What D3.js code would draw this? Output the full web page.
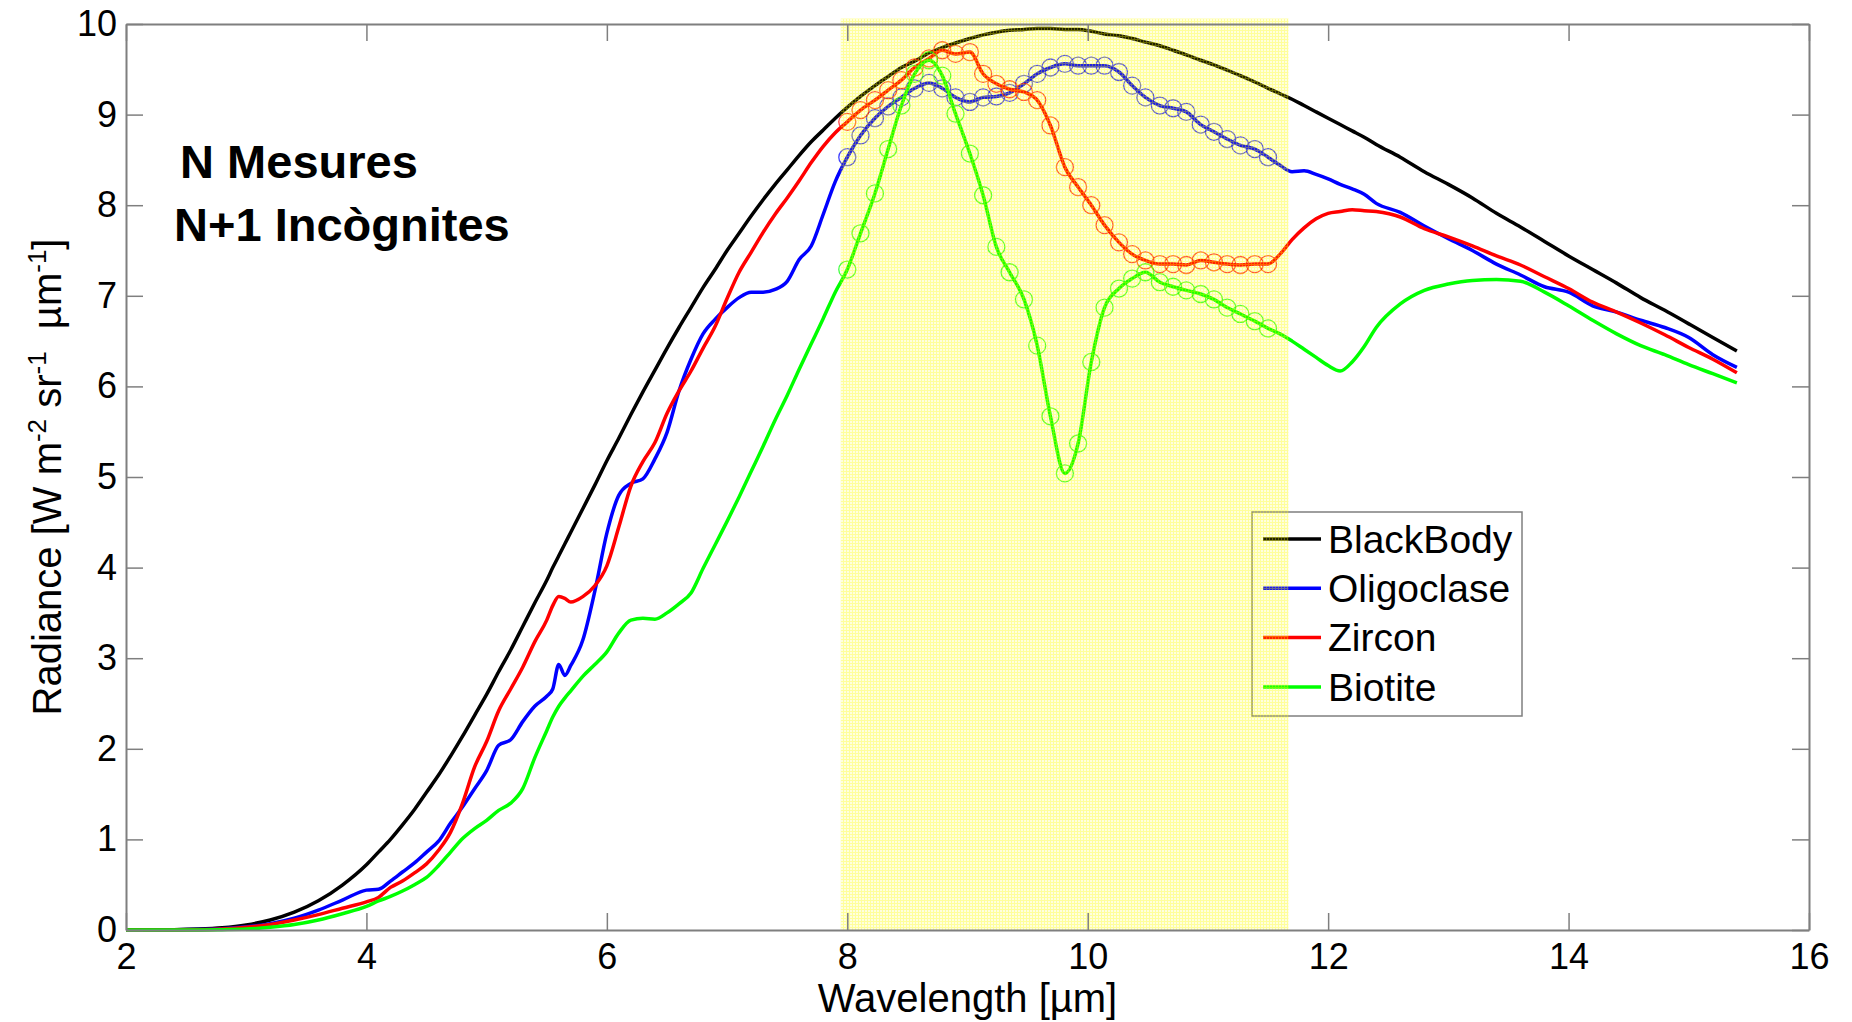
<!DOCTYPE html>
<html lang="en">
<head>
<meta charset="UTF-8">
<title>Radiance spectra</title>
<script src="https://d3js.org/d3.v7.min.js"></script>
<style>
    body { margin: 0; background: #fff; }
    svg { display: block; }
    text { font-family: "Liberation Sans", Arial, sans-serif; fill: #000; }
    .axis path, .axis line { stroke: #7f7f7f; }
    .axis path { stroke-width: 2; }
    .axis line { stroke-width: 1.5; }
</style>
</head>
<body>
<script>
// Data (wavelength in um, radiance in W m-2 sr-1 um-1)
const wavelengths = [
    2.0, 2.2, 2.4, 2.6, 2.8, 3.0, 3.2, 3.4, 3.6, 3.8,
    4.0, 4.1, 4.2, 4.3, 4.4, 4.5, 4.6, 4.7, 4.8, 4.9, 5.0, 5.1, 5.2, 5.3, 5.4, 5.5,
    5.55, 5.6, 5.65, 5.7, 5.8, 5.9, 6.0, 6.1, 6.2, 6.3, 6.4, 6.5, 6.6, 6.7, 6.8, 6.9,
    7.0, 7.1, 7.2, 7.3, 7.4, 7.5, 7.6, 7.7, 7.8, 7.9,
    8.00, 8.11, 8.23, 8.34, 8.45, 8.56, 8.68, 8.79, 8.90, 9.02, 9.13, 9.24, 9.35, 9.47, 9.58, 9.69,
    9.81, 9.92, 10.03, 10.14, 10.26, 10.37, 10.48, 10.60, 10.71, 10.82, 10.94, 11.05, 11.16, 11.27, 11.39, 11.50,
    11.6, 11.7, 11.8, 11.9, 12.0, 12.1, 12.2, 12.3, 12.4,
    12.6, 12.8, 13.0, 13.2, 13.4, 13.6, 13.8, 14.0, 14.2, 14.4, 14.6, 14.8, 15.0, 15.2, 15.4
];

const blackBody = [
    0.000, 0.001, 0.003, 0.010, 0.025, 0.056, 0.110, 0.196, 0.322, 0.496,
    0.72, 0.86, 1.00, 1.16, 1.33, 1.52, 1.71, 1.92, 2.14, 2.37, 2.60, 2.85, 3.09, 3.35, 3.61, 3.86,
    4.00, 4.13, 4.26, 4.39, 4.65, 4.91, 5.18, 5.43, 5.69, 5.94, 6.18, 6.42, 6.65, 6.87, 7.09, 7.29,
    7.50, 7.69, 7.88, 8.06, 8.23, 8.39, 8.55, 8.70, 8.83, 8.96,
    9.08, 9.20, 9.32, 9.42, 9.52, 9.59, 9.68, 9.74, 9.79, 9.84, 9.88, 9.91, 9.93, 9.94, 9.95, 9.95,
    9.94, 9.94, 9.92, 9.89, 9.87, 9.84, 9.80, 9.76, 9.71, 9.66, 9.60, 9.55, 9.49, 9.43, 9.36, 9.29,
    9.23, 9.17, 9.10, 9.03, 8.96, 8.89, 8.82, 8.75, 8.67,
    8.53, 8.37, 8.23, 8.08, 7.91, 7.76, 7.60, 7.44, 7.29, 7.14, 6.98, 6.84, 6.69, 6.54, 6.39
];

const oligoclase = [
    0.000, 0.000, 0.002, 0.006, 0.015, 0.035, 0.07, 0.13, 0.22, 0.33,
    0.44, 0.45, 0.54, 0.64, 0.74, 0.86, 0.98, 1.18, 1.36, 1.56, 1.76, 2.04, 2.10, 2.30, 2.47, 2.58,
    2.66, 2.93, 2.81, 2.92, 3.20, 3.74, 4.38, 4.80, 4.93, 4.98, 5.20, 5.49, 5.95, 6.30, 6.58, 6.74,
    6.87, 6.98, 7.04, 7.04, 7.07, 7.16, 7.40, 7.55, 7.90, 8.26,
    8.53, 8.77, 8.96, 9.09, 9.19, 9.29, 9.35, 9.29, 9.19, 9.14, 9.19, 9.20, 9.24, 9.34, 9.45, 9.52,
    9.56, 9.54, 9.54, 9.54, 9.47, 9.32, 9.19, 9.10, 9.07, 9.03, 8.89, 8.81, 8.73, 8.66, 8.62, 8.53,
    8.44, 8.37, 8.38, 8.34, 8.29, 8.23, 8.18, 8.12, 8.02,
    7.92, 7.77, 7.63, 7.50, 7.35, 7.23, 7.10, 7.04, 6.89, 6.82, 6.73, 6.65, 6.54, 6.35, 6.21
];

const zircon = [
    0.000, 0.000, 0.001, 0.004, 0.012, 0.030, 0.06, 0.11, 0.17, 0.24,
    0.31, 0.36, 0.47, 0.54, 0.63, 0.73, 0.88, 1.08, 1.40, 1.80, 2.08, 2.42, 2.66, 2.90, 3.18, 3.42,
    3.58, 3.68, 3.66, 3.62, 3.68, 3.80, 4.02, 4.45, 4.90, 5.17, 5.38, 5.70, 5.95, 6.17, 6.42, 6.66,
    6.97, 7.26, 7.48, 7.70, 7.90, 8.08, 8.27, 8.47, 8.65, 8.80,
    8.92, 9.05, 9.16, 9.27, 9.38, 9.52, 9.62, 9.71, 9.67, 9.69, 9.45, 9.34, 9.28, 9.25, 9.16, 8.88,
    8.42, 8.20, 8.00, 7.78, 7.59, 7.46, 7.39, 7.35, 7.35, 7.34, 7.39, 7.37, 7.35, 7.34, 7.35, 7.35,
    7.46, 7.62, 7.75, 7.85, 7.91, 7.93, 7.95, 7.94, 7.93,
    7.87, 7.74, 7.65, 7.55, 7.44, 7.34, 7.21, 7.08, 6.93, 6.82, 6.70, 6.57, 6.43, 6.30, 6.15
];

const biotite = [
    0.000, 0.000, 0.000, 0.001, 0.004, 0.010, 0.03, 0.06, 0.11, 0.18,
    0.26, 0.32, 0.37, 0.43, 0.50, 0.58, 0.71, 0.86, 1.01, 1.12, 1.21, 1.32, 1.40, 1.56, 1.90, 2.20,
    2.35, 2.47, 2.56, 2.64, 2.80, 2.93, 3.07, 3.28, 3.42, 3.44, 3.43, 3.50, 3.60, 3.72, 3.99, 4.25,
    4.51, 4.78, 5.06, 5.34, 5.63, 5.90, 6.19, 6.47, 6.75, 7.04,
    7.29, 7.69, 8.13, 8.62, 9.10, 9.45, 9.60, 9.43, 9.01, 8.57, 8.11, 7.54, 7.26, 6.96, 6.45, 5.67,
    5.04, 5.37, 6.27, 6.87, 7.08, 7.19, 7.26, 7.15, 7.10, 7.06, 7.02, 6.96, 6.87, 6.80, 6.72, 6.64,
    6.58, 6.50, 6.41, 6.32, 6.23, 6.17, 6.27, 6.44, 6.65,
    6.91, 7.06, 7.13, 7.17, 7.18, 7.16, 7.04, 6.89, 6.73, 6.58, 6.45, 6.35, 6.24, 6.14, 6.04
];

const seriesNames = ["BlackBody", "Oligoclase", "Zircon", "Biotite"];
const seriesValues = [blackBody, oligoclase, zircon, biotite];
const seriesColors = ["#000000", "#0000ff", "#ff0000", "#00ff00"];
const seriesMarked = [false, true, true, true];

// measured window (shaded band) and marker range
const bandRange = [7.946, 11.67];
const markerRange = [7.99, 11.51];

const xTicks = [2, 4, 6, 8, 10, 12, 14, 16];
const yTicks = [0, 1, 2, 3, 4, 5, 6, 7, 8, 9, 10];

// Canvas
const margin = {top: 24, right: 43, bottom: 92, left: 126},
      width = 1852 - margin.left - margin.right,
      height = 1022 - margin.top - margin.bottom;

const x = d3.scaleLinear().domain([2, 16]).range([0, width]);
const y = d3.scaleLinear().domain([0, 10]).range([height, 0]);

const svg = d3.select("body").append("svg")
    .attr("width", 1852)
    .attr("height", 1022);

const defs = svg.append("defs");

// dotted yellow fill for the band
const pat = defs.append("pattern")
    .attr("id", "band-dots")
    .attr("width", 3).attr("height", 3)
    .attr("patternUnits", "userSpaceOnUse");
pat.append("rect").attr("width", 3).attr("height", 3)
    .attr("fill", "#ffff00").attr("fill-opacity", 0.13);
pat.append("rect").attr("width", 3).attr("height", 1)
    .attr("fill", "#ffff00").attr("fill-opacity", 0.3);
pat.append("rect").attr("y", 1).attr("width", 1).attr("height", 2)
    .attr("fill", "#ffff00").attr("fill-opacity", 0.3);

const g = svg.append("g")
    .attr("transform", "translate(" + margin.left + "," + margin.top + ")");

// Lines and markers
const line = d3.line()
    .x(d => x(d[0]))
    .y(d => y(d[1]))
    .curve(d3.curveMonotoneX);

seriesValues.forEach(function(vals, i) {
    const pts = wavelengths.map((w, k) => [w, vals[k]]);
    g.append("path")
        .datum(pts)
        .attr("fill", "none")
        .attr("stroke", seriesColors[i])
        .attr("stroke-width", 3.5)
        .attr("stroke-linejoin", "round")
        .attr("d", line);

    if (seriesMarked[i]) {
        g.selectAll(".mk" + i)
            .data(pts.filter(d => d[0] >= markerRange[0] && d[0] <= markerRange[1]))
            .enter().append("circle")
            .attr("class", "mk" + i)
            .attr("cx", d => x(d[0]))
            .attr("cy", d => y(d[1]))
            .attr("r", 8.5)
            .attr("fill", "none")
            .attr("stroke", seriesColors[i])
            .attr("stroke-opacity", 0.75)
            .attr("stroke-width", 1.3);
    }
});

// Annotation
g.append("text")
    .attr("x", x(2.45)).attr("y", y(8.30))
    .attr("font-size", 47).attr("font-weight", "bold")
    .text("N Mesures");
g.append("text")
    .attr("x", x(2.40)).attr("y", y(7.60))
    .attr("font-size", 47).attr("font-weight", "bold")
    .text("N+1 Incògnites");

// Legend
const legend = g.append("g")
    .attr("transform", "translate(1126,488)");
legend.append("rect")
    .attr("width", 270).attr("height", 204)
    .attr("fill", "#fff")
    .attr("stroke", "#7f7f7f").attr("stroke-width", 1.5);
seriesNames.forEach(function(name, i) {
    const ly = 27 + i * 49.3;
    legend.append("line")
        .attr("x1", 11).attr("x2", 69)
        .attr("y1", ly).attr("y2", ly)
        .attr("stroke", seriesColors[i]).attr("stroke-width", 3.5);
    legend.append("text")
        .attr("x", 76).attr("y", ly).attr("dy", "0.35em")
        .attr("font-size", 39)
        .text(name);
});

// Shaded band, drawn over everything like in the original
g.append("rect")
    .attr("x", x(bandRange[0]))
    .attr("y", y(10.06))
    .attr("width", x(bandRange[1]) - x(bandRange[0]))
    .attr("height", y(0) - y(10.06))
    .attr("fill", "url(#band-dots)");

// Axes (box with inward ticks)
g.append("g")
    .attr("class", "axis")
    .attr("transform", "translate(0," + height + ")")
    .call(d3.axisBottom(x).tickValues(xTicks).tickSize(-17).tickSizeOuter(0).tickPadding(13));

g.append("g")
    .attr("class", "axis")
    .call(d3.axisTop(x).tickValues(xTicks).tickSize(-17).tickSizeOuter(0).tickFormat(""));

g.append("g")
    .attr("class", "axis")
    .call(d3.axisLeft(y).tickValues(yTicks).tickSize(-17).tickSizeOuter(0).tickPadding(9));

g.append("g")
    .attr("class", "axis")
    .attr("transform", "translate(" + width + ",0)")
    .call(d3.axisRight(y).tickValues(yTicks).tickSize(-17).tickSizeOuter(0).tickFormat(""));

g.selectAll(".axis")
    .attr("font-size", 36)
    .attr("font-family", null);
g.selectAll(".axis text").attr("fill", "#000");

// Axis labels
g.append("text")
    .attr("x", width / 2).attr("y", height + 82)
    .attr("text-anchor", "middle")
    .attr("font-size", 40)
    .text("Wavelength [µm]");

const ylab = svg.append("text")
    .attr("transform", "translate(61," + (margin.top + height / 2) + ") rotate(-90)")
    .attr("text-anchor", "middle")
    .attr("font-size", 40)
    .style("white-space", "pre");
ylab.append("tspan").text("Radiance [W m");
ylab.append("tspan").attr("font-size", 26).attr("dy", -15).text("-2");
ylab.append("tspan").attr("dy", 15).text(" sr");
ylab.append("tspan").attr("font-size", 26).attr("dy", -15).text("-1");
ylab.append("tspan").attr("dy", 15).text("  µm");
ylab.append("tspan").attr("font-size", 26).attr("dy", -15).text("-1");
ylab.append("tspan").attr("dy", 15).text("]");
</script>
</body>
</html>
